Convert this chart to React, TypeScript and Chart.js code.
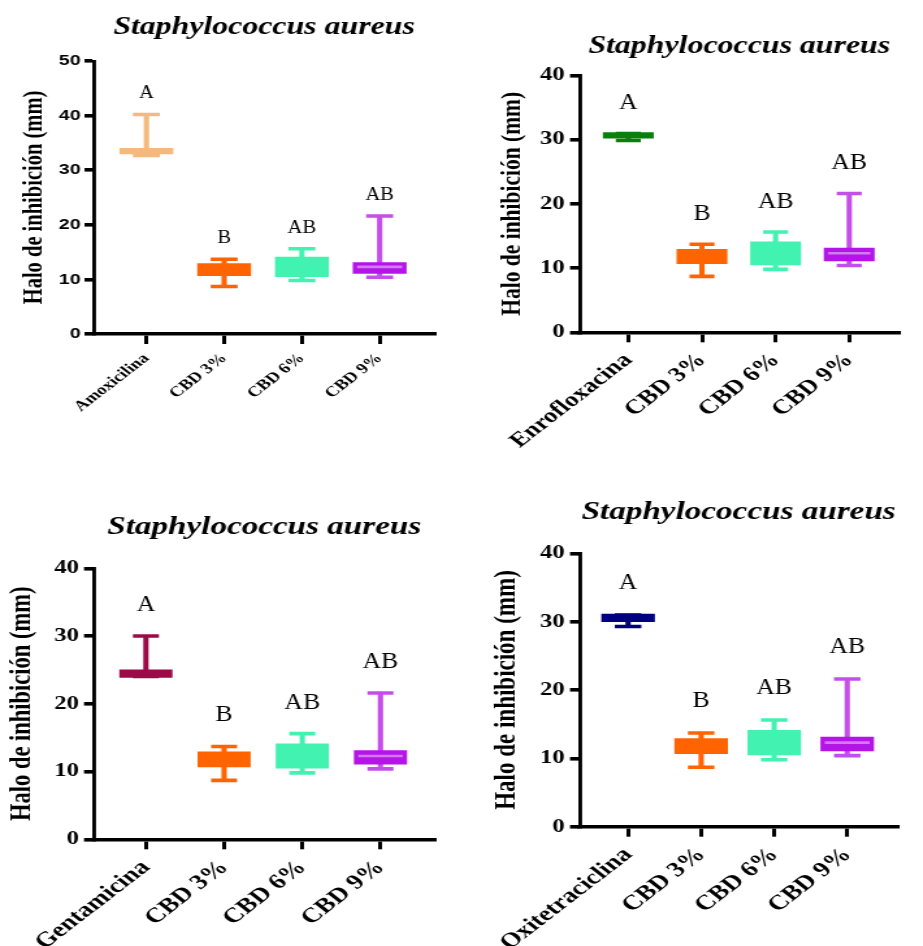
import React, { useEffect, useRef } from 'react';
import { Chart, registerables } from 'chart.js';

Chart.register(...registerables);

// ---------------- data ----------------
const chartTitle = 'Staphylococcus aureus';
const yAxisTitle = 'Halo de inhibición (mm)';
const controlNames = ['Amoxicilina', 'Enrofloxacina', 'Gentamicina', 'Oxitetraciclina'];
const cbdNames = ['CBD 3%', 'CBD 6%', 'CBD 9%'];

// box statistics: [min, q1, median, q3, max] (mm)
const amoxicilinaStats = [32.7, 33.0, 33.5, 34.0, 40.2];
const enrofloxacinaStats = [29.85, 30.2, 30.6, 31.1, 30.95];
const gentamicinaStats = [24.05, 23.9, 24.5, 25.0, 30.0];
const oxitetraciclinaStats = [29.3, 30.0, 30.5, 31.1, 30.95];
const cbd3Stats = [8.7, 10.7, 12.0, 12.9, 13.7];
const cbd6Stats = [9.8, 10.5, 12.5, 14.1, 15.6];
const cbd9Stats = [10.4, 11.1, 12.3, 13.1, 21.6];
const controlStats = [amoxicilinaStats, enrofloxacinaStats, gentamicinaStats, oxitetraciclinaStats];

// significance letters (control, CBD 3%, CBD 6%, CBD 9%)
const groupLetters = ['A', 'B', 'AB', 'AB'];

// y axis ticks
const yAxisMax = [50, 40, 40, 40];
const yTickStep = 10;

// ---------------- styles ----------------
const controlColors = ['#f3b97e', '#0a800a', '#9c0a48', '#00007f'];
const cbdBoxColors = ['#ff6400', '#42f2b0', '#b414e8'];
const cbdWhiskerColors = ['#ff6400', '#42f2b0', '#c44ee9'];
const cbdMedianColors = ['#ff6400', '#42f2b0', '#d27af2'];

const SERIF = '"Liberation Serif", "Times New Roman", serif';
const SANS = '"Liberation Sans", Arial, sans-serif';
const STRETCH = 1.3;

// page-level geometry of each panel
const layouts = [
  { left: 0, top: 0, width: 460, height: 470, area: { l: 94, r: 438, t: 61, b: 334 }, c0: 147, c3: 383,
    titleSize: 24.5, titleY: 28, yTickFamily: SANS, yTickSize: 15, yTickPad: 3, yTickLen: 9.5,
    xTickSize: 14.5, yTitleSize: 20.5, yTitleX: 35, letterSize: 18, letterGap: 21, boxW: 53, capW: 27 },
  { left: 460, top: 0, width: 463, height: 470, area: { l: 120, r: 443, t: 75.3, b: 332.3 }, c0: 169, c3: 393,
    titleSize: 24.5, titleY: 47, yTickFamily: SERIF, yTickSize: 19, yTickPad: 4, yTickLen: 10,
    xTickSize: 20.5, yTitleSize: 21.5, yTitleX: 52, letterSize: 22.5, letterGap: 30, boxW: 50, capW: 25 },
  { left: 0, top: 470, width: 460, height: 476, area: { l: 94, r: 435, t: 98.3, b: 369.3 }, c0: 146, c3: 381,
    titleSize: 25.5, titleY: 57, yTickFamily: SERIF, yTickSize: 19, yTickPad: 4, yTickLen: 10,
    xTickSize: 21, yTitleSize: 22.5, yTitleX: 22, letterSize: 22.5, letterGap: 31, boxW: 52.3, capW: 26 },
  { left: 460, top: 470, width: 463, height: 476, area: { l: 120, r: 463, t: 83.3, b: 356.7 }, c0: 172, c3: 409,
    titleSize: 25.5, titleY: 42, yTickFamily: SERIF, yTickSize: 19, yTickPad: 4, yTickLen: 10,
    xTickSize: 21, yTitleSize: 23, yTitleX: 47, letterSize: 22.5, letterGap: 32, boxW: 52.7, capW: 26.5 },
];

const lettersPlugin = {
  id: 'groupLetters',
  afterDatasetsDraw(chart: any, _args: any, opts: any) {
    const { ctx } = chart;
    const x = chart.scales.x;
    const y = chart.scales.y;
    ctx.save();
    ctx.font = `${opts.size}px ${SERIF}`;
    ctx.fillStyle = '#000';
    ctx.textAlign = 'center';
    ctx.textBaseline = 'middle';
    (opts.letters as string[]).forEach((t, i) => {
      const px = x.getPixelForValue(i);
      const py = y.getPixelForValue(opts.maxes[i]) - opts.gap;
      ctx.save();
      ctx.translate(px, py);
      ctx.scale(opts.squeeze, 1);
      ctx.fillText(t, 0, 0);
      ctx.restore();
    });
    ctx.restore();
  },
};

function Panel({ idx }: { idx: number }) {
  const ref = useRef<HTMLCanvasElement>(null);
  const g = layouts[idx];
  const w = Math.round(g.width / STRETCH);
  const s = g.width / w;

  useEffect(() => {
    const cx = (px: number) => px / s;
    const cats = [controlNames[idx], ...cbdNames];
    const stats = [controlStats[idx], cbd3Stats, cbd6Stats, cbd9Stats];
    const boxColors = [controlColors[idx], ...cbdBoxColors];
    const whiskerColors = [controlColors[idx], ...cbdWhiskerColors];
    const medianColors = [controlColors[idx], ...cbdMedianColors];
    const spacing = (g.c3 - g.c0) / 3;
    const xMin = -(g.c0 - g.area.l) / spacing;
    const xMax = 3 + (g.area.r - g.c3) / spacing;
    const boxW = cx(g.boxW);
    const capR = cx(g.capW) / 2;
    const titlePadTop = g.titleY - g.titleSize / 2;
    const titlePadBottom = g.area.t - g.titleSize - titlePadTop;

    const chart = new Chart(ref.current as HTMLCanvasElement, {
      type: 'bar',
      data: {
        datasets: [
          {
            type: 'scatter',
            data: stats.map((st, k) => ({ x: k, y: st[2] })),
            pointStyle: 'line',
            pointRadius: boxW / 2 - 3,
            pointBorderWidth: 2.6,
            pointBorderColor: medianColors,
            pointBackgroundColor: medianColors,
            order: 0,
          } as any,
          {
            type: 'bar',
            data: stats.map((st, k) => ({ x: k, y: [st[1], st[3]] })),
            backgroundColor: boxColors,
            borderWidth: 0,
            barThickness: boxW,
            grouped: false,
            order: 1,
          } as any,
          {
            type: 'scatter',
            data: stats.flatMap((st, k) => [{ x: k, y: st[0] }, { x: k, y: st[4] }]),
            pointStyle: 'line',
            pointRadius: capR,
            pointBorderWidth: 3.6,
            pointBorderColor: whiskerColors.flatMap((c) => [c, c]),
            pointBackgroundColor: whiskerColors.flatMap((c) => [c, c]),
            order: 2,
          } as any,
          {
            type: 'bar',
            data: stats.map((st, k) => ({ x: k, y: [st[0], st[4]] })),
            backgroundColor: whiskerColors,
            borderWidth: 0,
            barThickness: 3.4,
            grouped: false,
            order: 3,
          } as any,
        ],
      },
      options: {
        animation: false,
        responsive: false,
        events: [],
        layout: { padding: { left: 0, top: 0, bottom: 0, right: Math.max(0, w - cx(g.area.r)) } },
        plugins: {
          legend: { display: false },
          tooltip: { enabled: false },
          title: {
            display: true,
            text: chartTitle,
            color: '#000',
            fullSize: false,
            font: { family: SERIF, size: g.titleSize, style: 'italic', weight: 'bold', lineHeight: 1 },
            padding: { top: titlePadTop, bottom: titlePadBottom },
          },
          groupLetters: {
            letters: groupLetters,
            maxes: stats.map((st) => st[4]),
            size: g.letterSize,
            gap: g.letterGap,
            squeeze: 0.88,
          },
        } as any,
        scales: {
          x: {
            type: 'linear',
            min: xMin,
            max: xMax,
            offset: false,
            afterBuildTicks: (scale: any) => {
              scale.ticks = cats.map((_, i) => ({ value: i }));
            },
            afterFit: (scale: any) => {
              scale.height = g.height - g.area.b;
            },
            ticks: {
              autoSkip: false,
              minRotation: 45,
              maxRotation: 45,
              padding: 6,
              color: '#000',
              font: { family: SERIF, size: g.xTickSize, weight: 'bold' },
              callback: (v: any) => cats[Math.round(Number(v))] ?? '',
            },
            grid: {
              display: true, drawOnChartArea: false, drawTicks: true, tickLength: 10,
              lineWidth: 3, tickWidth: 3, color: '#000', tickColor: '#000', offset: false,
            },
            border: { display: true, color: '#000', width: 3.6 },
          },
          y: {
            type: 'linear',
            min: 0,
            max: yAxisMax[idx],
            afterFit: (scale: any) => {
              scale.width = cx(g.area.l);
            },
            ticks: {
              stepSize: yTickStep,
              padding: g.yTickPad,
              color: '#000',
              font: { family: g.yTickFamily, size: g.yTickSize, weight: 'bold' },
            },
            grid: {
              display: true, drawOnChartArea: false, drawTicks: true, tickLength: cx(g.yTickLen),
              lineWidth: 3.6, tickWidth: 3.6, color: '#000', tickColor: '#000',
            },
            border: { display: true, color: '#000', width: 2.9 },
            title: {
              display: true,
              text: yAxisTitle,
              color: '#000',
              font: { family: SERIF, size: g.yTitleSize, weight: 'bold', lineHeight: 1 },
              padding: { top: cx(g.yTitleX) - g.yTitleSize / 2, bottom: 0 },
            },
          },
        } as any,
      },
      plugins: [lettersPlugin as any],
    });
    return () => chart.destroy();
  }, []);

  return (
    <canvas
      ref={ref}
      width={w}
      height={g.height}
      style={{
        position: 'absolute',
        left: g.left,
        top: g.top,
        width: w,
        height: g.height,
        transform: `scaleX(${s})`,
        transformOrigin: '0 0',
      }}
    />
  );
}

export default function App() {
  return (
    <div style={{ position: 'absolute', left: 0, top: 0, width: 923, height: 946, background: '#fff', overflow: 'hidden' }}>
      {layouts.map((_, i) => (
        <Panel key={i} idx={i} />
      ))}
    </div>
  );
}
